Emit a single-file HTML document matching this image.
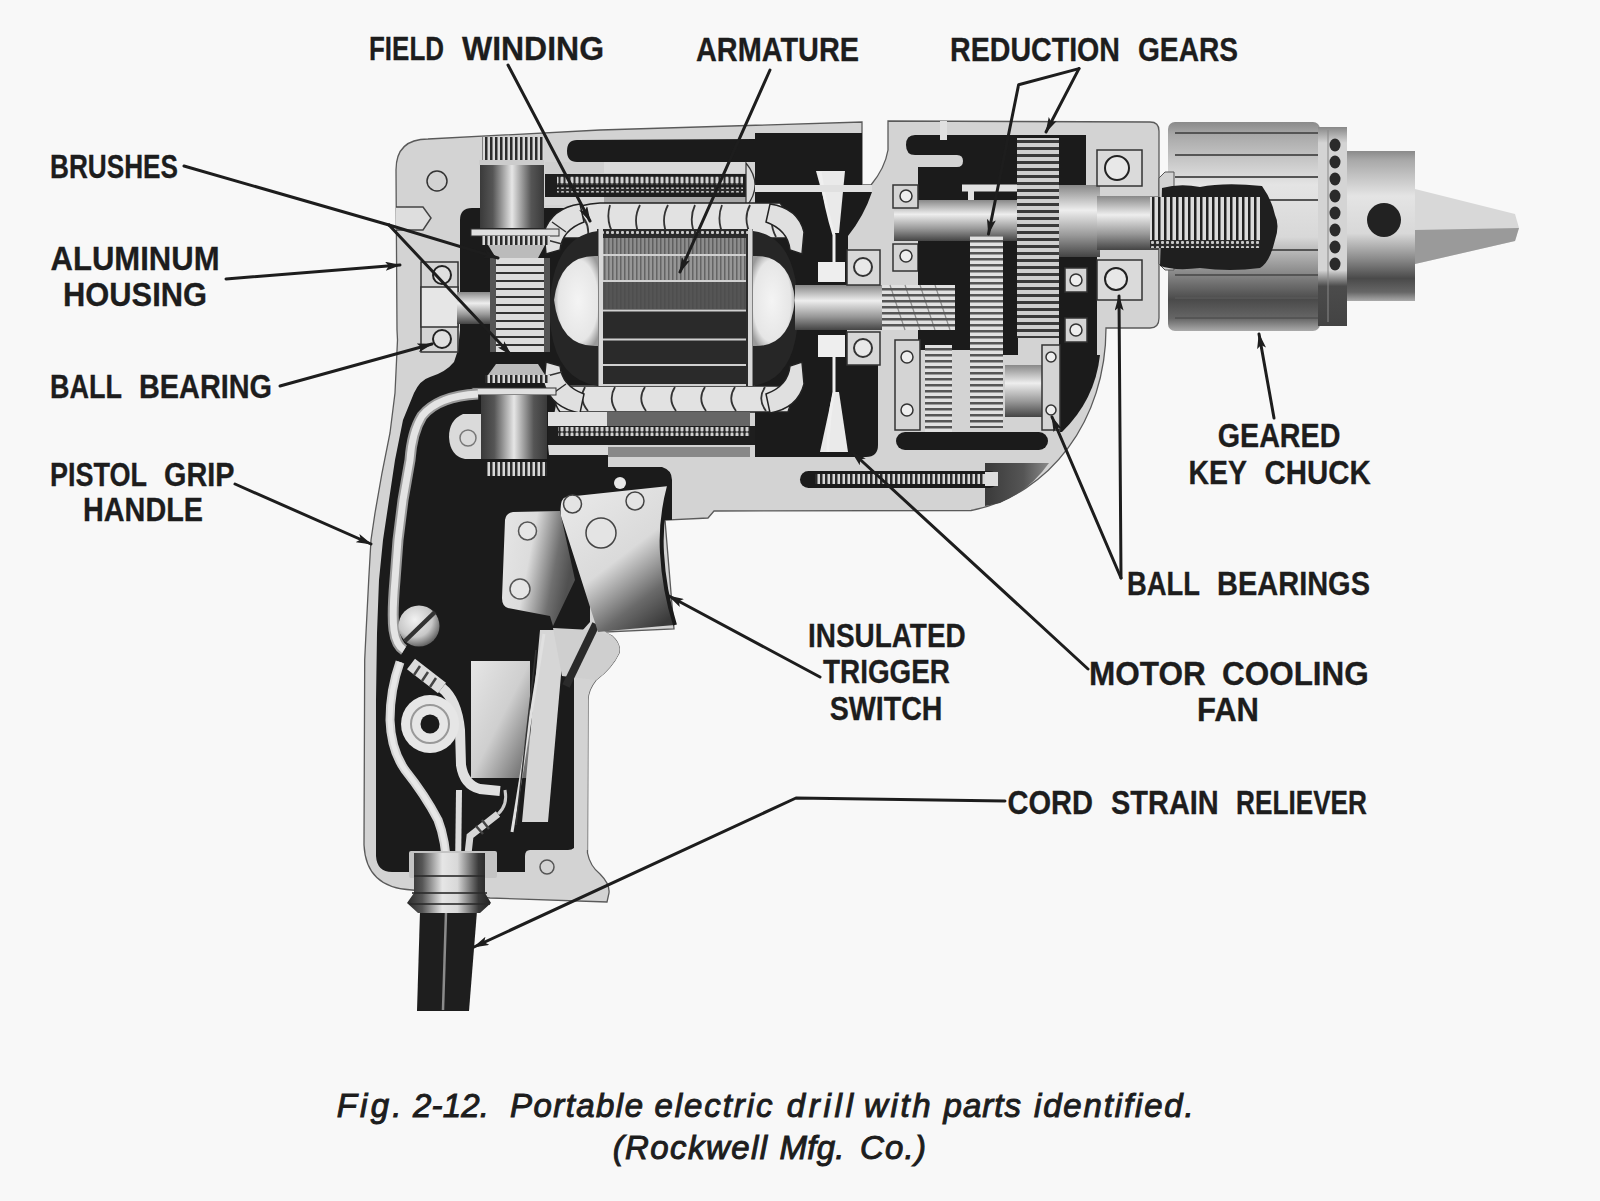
<!DOCTYPE html>
<html><head><meta charset="utf-8">
<style>
html,body{margin:0;padding:0;background:#f8f8f8;}
body{width:1600px;height:1201px;overflow:hidden;}
svg{display:block;}
.lb{font-family:"Liberation Sans",sans-serif;font-weight:bold;font-size:32.5px;fill:#1d1d1d;stroke:#1d1d1d;stroke-width:0.3px;}
.cp{font-family:"Liberation Sans",sans-serif;font-weight:normal;font-style:italic;font-size:33px;fill:#1d1d1d;stroke:#1d1d1d;stroke-width:1px;}
</style></head><body>
<svg width="1600" height="1201" viewBox="0 0 1600 1201">
<defs>
<linearGradient id="cylV" x1="0" y1="0" x2="1" y2="0">
<stop offset="0" stop-color="#3a3a3a"/><stop offset="0.2" stop-color="#555"/><stop offset="0.5" stop-color="#e6e6e6"/><stop offset="0.8" stop-color="#555"/><stop offset="1" stop-color="#3a3a3a"/>
</linearGradient>
<linearGradient id="cylH" x1="0" y1="0" x2="0" y2="1">
<stop offset="0" stop-color="#888"/><stop offset="0.35" stop-color="#eee"/><stop offset="0.7" stop-color="#999"/><stop offset="1" stop-color="#444"/>
</linearGradient>
<linearGradient id="chuckG" x1="0" y1="0" x2="0" y2="1">
<stop offset="0" stop-color="#8a8a8a"/><stop offset="0.06" stop-color="#a8a8a8"/><stop offset="0.3" stop-color="#e4e4e4"/><stop offset="0.55" stop-color="#d8d8d8"/><stop offset="0.72" stop-color="#8a8a8a"/><stop offset="0.85" stop-color="#4a4a4a"/><stop offset="0.94" stop-color="#666"/><stop offset="1" stop-color="#aaa"/>
</linearGradient>
<linearGradient id="ringG" x1="0" y1="0" x2="0" y2="1">
<stop offset="0" stop-color="#555" stop-opacity="0.6"/><stop offset="0.08" stop-color="#555" stop-opacity="0"/><stop offset="0.72" stop-color="#333" stop-opacity="0"/><stop offset="0.8" stop-color="#333" stop-opacity="0.85"/><stop offset="1" stop-color="#333" stop-opacity="0.9"/>
</linearGradient>
<radialGradient id="bell" cx="0.45" cy="0.4" r="0.6">
<stop offset="0" stop-color="#f2f2f2"/><stop offset="0.6" stop-color="#cfcfcf"/><stop offset="1" stop-color="#333"/>
</radialGradient>
<linearGradient id="trig" x1="0" y1="0" x2="0.6" y2="1">
<stop offset="0" stop-color="#e4e4e4"/><stop offset="0.5" stop-color="#d6d6d6"/><stop offset="1" stop-color="#555"/>
</linearGradient>

<pattern id="knV" width="5" height="10" patternUnits="userSpaceOnUse"><rect width="5" height="10" fill="#d8d8d8"/><rect width="2.5" height="10" fill="#2a2a2a"/></pattern>
<pattern id="knVf" width="3" height="10" patternUnits="userSpaceOnUse"><rect width="3" height="10" fill="#999"/><rect width="1.2" height="10" fill="#444"/></pattern>
<pattern id="gearH" width="10" height="7" patternUnits="userSpaceOnUse"><rect width="10" height="7" fill="#cfcfcf"/><rect width="10" height="3" fill="#3a3a3a"/></pattern>
<pattern id="gearH2" width="10" height="6" patternUnits="userSpaceOnUse"><rect width="10" height="6" fill="#e0e0e0"/><rect width="10" height="2.5" fill="#555"/></pattern>
<pattern id="commH" width="10" height="8" patternUnits="userSpaceOnUse"><rect width="10" height="8" fill="#dcdcdc"/><rect width="10" height="2" fill="#333"/></pattern>
<pattern id="thrV" width="6" height="10" patternUnits="userSpaceOnUse"><rect width="6" height="10" fill="#ddd"/><rect width="2.5" height="10" fill="#222"/></pattern>

<linearGradient id="plateG" x1="0" y1="0" x2="1" y2="0.3">
<stop offset="0" stop-color="#e6e6e6"/><stop offset="0.45" stop-color="#dcdcdc"/><stop offset="0.8" stop-color="#707070"/><stop offset="1" stop-color="#505050"/>
</linearGradient>
<linearGradient id="trigG" x1="0.2" y1="0" x2="0.8" y2="1">
<stop offset="0" stop-color="#e8e8e8"/><stop offset="0.5" stop-color="#dadada"/><stop offset="0.8" stop-color="#6a6a6a"/><stop offset="1" stop-color="#3a3a3a"/>
</linearGradient>
<linearGradient id="swG" x1="0" y1="0" x2="1" y2="1">
<stop offset="0" stop-color="#e6e6e6"/><stop offset="0.5" stop-color="#cfcfcf"/><stop offset="1" stop-color="#606060"/>
</linearGradient>
<linearGradient id="collarG" x1="0" y1="0" x2="1" y2="0">
<stop offset="0" stop-color="#2a2a2a"/><stop offset="0.18" stop-color="#555"/><stop offset="0.42" stop-color="#e6e6e6"/><stop offset="0.6" stop-color="#d8d8d8"/><stop offset="0.85" stop-color="#3a3a3a"/><stop offset="1" stop-color="#222"/>
</linearGradient>
<radialGradient id="sph" cx="0.4" cy="0.35" r="0.7">
<stop offset="0" stop-color="#f2f2f2"/><stop offset="0.6" stop-color="#c8c8c8"/><stop offset="1" stop-color="#555"/>
</radialGradient>

<marker id="ah" viewBox="0 0 14 8" refX="13" refY="4" markerWidth="16" markerHeight="9" markerUnits="userSpaceOnUse" orient="auto"><path d="M0,0 L14,4 L0,8 L3,4 Z" fill="#1d1d1d"/></marker>

<pattern id="dotsA" width="5" height="8" patternUnits="userSpaceOnUse"><rect width="5" height="8" fill="#2a2a2a"/><rect x="0.5" y="0.5" width="3" height="7" rx="1.2" fill="#d0d0d0"/></pattern>
<pattern id="dotsB" width="5" height="5" patternUnits="userSpaceOnUse"><rect width="5" height="5" fill="#2a2a2a"/><rect x="1" y="1" width="3" height="3" rx="1" fill="#c8c8c8"/></pattern>
<pattern id="armV" width="4" height="10" patternUnits="userSpaceOnUse"><rect width="1.5" height="10" fill="#3a3a3a" opacity="0.55"/></pattern>
<radialGradient id="bellL" cx="0.55" cy="0.5" r="0.6"><stop offset="0" stop-color="#f4f4f4"/><stop offset="0.75" stop-color="#e6e6e6"/><stop offset="1" stop-color="#9a9a9a"/></radialGradient>
<radialGradient id="bellR" cx="0.45" cy="0.5" r="0.6"><stop offset="0" stop-color="#f4f4f4"/><stop offset="0.75" stop-color="#e6e6e6"/><stop offset="1" stop-color="#9a9a9a"/></radialGradient>
<linearGradient id="lrG" x1="0" y1="0" x2="1" y2="0"><stop offset="0" stop-color="#3a3a3a"/><stop offset="0.6" stop-color="#555"/><stop offset="1" stop-color="#8a8a8a"/></linearGradient>
</defs>
<rect x="0" y="0" width="1600" height="1201" fill="#f8f8f8"/>

<!-- ============ HOUSING SILHOUETTE ============ -->
<path id="housing" fill="#d3d3d3" stroke="#5a5a5a" stroke-width="1.3" d="M396,170 Q396,139 428,139 L600,130 L862,122 L862,185 L871,185 Q885,168 888,150 L888,121 L1150,122 Q1159,122 1159,131 L1159,318 Q1159,328 1150,328 L1106,328 C1106,420 1050,495 971,510.5 L714,511 L708,518 L665,520 L674,629 L604,632 L612,636 Q621,644 619,653 Q612,668 596,680 Q588,690 588,700 L587.5,853 Q590,866 600,874 Q610,884 609,893 L607,902 L490,898 L412,890 Q366,888 364,845 L364.7,660 L366,633 L368.7,580 L371,540 L375,513 L382,473 L390,433 L395,393 L397.5,340 L397,330 Z"/>


<!-- ============ HANDLE + LOWER MOTOR BLACK ============ -->
<path fill="#1b1b1b" d="M460,220 Q460,208 472,208 L600,208 L600,385 L560,385 L548,445 L549,455 L608,455 L608,467 L662,467 Q672,470 672,480 L672,520 L590,520 L590,640 L576,640 L576,842 Q576,850 568,850 L530,850 Q525,850 525,856 L525,872 L392,872 Q377,872 376,856 L376,700 L377,633 L379,580 L383,540 L389,500 L395,460 L403,420 L414,393 Q420,380 430,377 Q446,372 454,362 L458,350 L460,330 Z"/>

<!-- ============ MOTOR TOP DARK ============ -->
<path fill="#1b1b1b" d="M577,140 L755,139 L755,133 L862,133 L862,192 L755,192 L755,162 L577,162 Q567,162 567,151 Q567,140 577,140 Z"/>
<path fill="#1b1b1b" d="M755,192 L872,192 Q864,216 848,236 L848,250 L847,285 L795,285 L795,330 L847,330 L847,360 L878,360 L878,445 Q878,457 866,457 L755,457 Z"/>


<!-- ============ MOTOR INTERNALS ============ -->
<!-- housing features left -->
<circle cx="437" cy="181" r="10" fill="none" stroke="#333" stroke-width="1.5"/>
<path d="M396,207 L423,207 L431,218 L423,230 L396,230" fill="#dedede" stroke="#444" stroke-width="1.5"/>
<!-- left bearing -->
<rect x="421" y="262" width="37" height="90" fill="#d4d4d4" stroke="#333" stroke-width="1.5"/>
<rect x="421" y="287" width="37" height="40" fill="#e6e6e6" stroke="#333" stroke-width="1.5"/>
<circle cx="442" cy="275" r="9" fill="#e0e0e0" stroke="#222" stroke-width="2"/>
<circle cx="442" cy="339" r="9" fill="#e0e0e0" stroke="#222" stroke-width="2"/>
<rect x="457" y="292" width="35" height="32" fill="url(#cylH)"/>
<!-- field pole top -->
<rect x="545" y="162" width="205" height="12" fill="#cfcfcf"/>
<rect x="604" y="162" width="144" height="11" fill="#dadada"/>
<rect x="545" y="174" width="204" height="24" fill="#1e1e1e"/>
<rect x="557" y="176.5" width="186" height="8" fill="url(#dotsA)"/>
<rect x="557" y="187.5" width="186" height="5" fill="url(#dotsB)"/>
<rect x="545" y="197" width="60" height="8" fill="#d8d8d8"/>
<rect x="604" y="197" width="145" height="10" fill="#a8a8a8"/>
<path d="M746,163 Q764,185 746,207 Z" fill="#dcdcdc" stroke="#333" stroke-width="1.2"/>
<!-- top field coil -->
<path d="M548,236 Q560,205 600,203 L780,203 Q792,215 790,238 L548,238 Z" fill="#e2e2e2" stroke="#222" stroke-width="1.5"/>
<path d="M575,210 Q590,220 588,236 M610,205 Q605,222 615,237 M640,205 Q632,220 640,237 M668,205 Q660,220 668,237 M695,205 Q688,220 696,237 M722,205 Q716,220 724,237 M750,205 Q742,220 752,237 M775,207 Q768,222 776,237" stroke="#333" stroke-width="1.8" fill="none"/>
<!-- bottom field coil -->
<path d="M560,386 L782,386 Q794,398 788,412 L560,412 Q550,399 560,386 Z" fill="#e2e2e2" stroke="#222" stroke-width="1.5"/>
<path d="M585,387 Q578,399 588,411 M615,387 Q608,399 616,411 M645,387 Q637,399 646,411 M675,387 Q667,399 676,411 M705,387 Q697,399 706,411 M735,387 Q727,399 736,411 M765,387 Q757,399 766,411" stroke="#333" stroke-width="1.8" fill="none"/>
<!-- coil end turns -->
<path d="M580,204 Q552,208 544,232 L546,254 L560,250 Q562,230 584,222 Z" fill="#e0e0e0" stroke="#222" stroke-width="1.5"/>
<path d="M552,222 L566,232 M547,240 L562,244" stroke="#333" stroke-width="1.5"/>
<path d="M580,413 Q552,408 544,384 L546,362 L560,366 Q562,386 584,394 Z" fill="#e0e0e0" stroke="#222" stroke-width="1.5"/>
<path d="M552,394 L566,384 M547,376 L562,372" stroke="#333" stroke-width="1.5"/>
<path d="M770,204 Q798,208 804,232 L802,254 L790,250 Q788,230 766,222 Z" fill="#e0e0e0" stroke="#222" stroke-width="1.5"/>
<path d="M770,413 Q798,408 804,384 L802,362 L790,366 Q788,386 766,394 Z" fill="#e0e0e0" stroke="#222" stroke-width="1.5"/>
<!-- bottom field pole -->
<rect x="548" y="412" width="60" height="14" fill="#e0e0e0"/>
<rect x="607" y="412" width="143" height="14" fill="#666"/>
<rect x="548" y="426" width="207" height="19" fill="#1e1e1e"/>
<rect x="558" y="427" width="192" height="9" fill="url(#dotsA)"/>
<rect x="549" y="445" width="59" height="10" fill="#dadada"/>
<rect x="608" y="447" width="142" height="10" fill="#888"/>
<!-- armature -->
<rect x="597" y="229" width="156" height="157" fill="#2c2c2c"/>
<rect x="600" y="230" width="151" height="6" fill="url(#dotsB)"/>
<rect x="603" y="238" width="143" height="16" fill="#8c8c8c"/>
<rect x="603" y="238" width="143" height="16" fill="url(#armV)"/>
<rect x="603" y="256" width="143" height="24" fill="#969696"/>
<rect x="603" y="256" width="143" height="24" fill="url(#armV)"/>
<rect x="603" y="282" width="143" height="27" fill="#555"/>
<rect x="603" y="282" width="143" height="27" fill="url(#armV)" opacity="0.5"/>
<rect x="603" y="312" width="143" height="26" fill="#2a2a2a"/>
<rect x="603" y="341" width="143" height="23" fill="#2a2a2a"/>
<rect x="603" y="366" width="143" height="18" fill="#2a2a2a"/>
<g stroke="#d0d0d0" stroke-width="2"><line x1="603" y1="255" x2="746" y2="255"/><line x1="603" y1="281" x2="746" y2="281"/><line x1="603" y1="310.5" x2="746" y2="310.5"/><line x1="603" y1="339.5" x2="746" y2="339.5"/><line x1="603" y1="365" x2="746" y2="365"/><line x1="603" y1="385" x2="746" y2="385"/></g>
<rect x="598.5" y="229" width="4.5" height="157" fill="#d8d8d8"/>
<rect x="748" y="229" width="4.5" height="157" fill="#d8d8d8"/>
<!-- left bell -->
<path d="M598,231 Q558,236 551,290 Q548,310 551,330 Q558,380 598,386 Z" fill="#262626"/>
<path d="M598,256 Q560,254 554,300 Q560,348 598,346 Z" fill="url(#bellL)"/>
<!-- right bell -->
<path d="M753,231 Q791,236 797,290 Q800,310 797,330 Q791,380 753,386 Z" fill="#262626"/>
<path d="M753,256 Q790,254 795,300 Q790,348 753,346 Z" fill="url(#bellR)"/>
<!-- commutator -->
<rect x="490" y="258" width="60" height="94" fill="url(#commH)"/>
<rect x="490" y="258" width="6" height="94" fill="#555"/>
<rect x="544" y="258" width="6" height="94" fill="#555"/>
<!-- top brush -->
<rect x="482" y="137" width="62" height="25" fill="url(#knV)"/>
<rect x="479" y="160" width="65" height="5" fill="#ccc"/>
<rect x="480" y="165" width="64" height="63" fill="url(#cylV)"/>
<rect x="471" y="229" width="88" height="7" fill="#e0e0e0" stroke="#333" stroke-width="1"/>
<rect x="482" y="236" width="68" height="9" fill="url(#knV)"/>
<path d="M488,245 L545,245 L538,258 L496,258 Z" fill="#bbb"/>
<!-- bottom brush -->
<path d="M496,364 L538,364 L545,375 L488,375 Z" fill="#bbb"/>
<rect x="485" y="375" width="65" height="8" fill="url(#knV)"/>
<rect x="472" y="388" width="84" height="7" fill="#e0e0e0" stroke="#333" stroke-width="1"/>
<rect x="481" y="395" width="66" height="64" fill="url(#cylV)"/>
<rect x="487" y="462" width="60" height="14" fill="url(#knV)"/>
<!-- boss with hole -->
<path d="M481,414 L463,414 Q449,420 449,437 Q450,456 465,459 L481,459 Z" fill="#dadada"/>
<circle cx="468" cy="438" r="8" fill="none" stroke="#777" stroke-width="1.5"/>
<!-- armature shaft right -->
<rect x="795" y="285" width="90" height="45" fill="url(#cylH)"/>
<!-- fan cones -->
<path d="M816,171 L845,171 L839,233 L833,233 Z" fill="#eaeaea"/>
<path d="M833,392 L839,392 L848,452 L820,452 Z" fill="#eaeaea"/>
<rect x="818" y="262" width="27" height="20" fill="#eee"/>
<rect x="818" y="335" width="27" height="22" fill="#eee"/>
<path d="M820,172 Q826,210 834,235 L834,262" stroke="#f0f0f0" stroke-width="3" fill="none"/>
<path d="M834,357 L834,392 Q828,420 828,452" stroke="#f0f0f0" stroke-width="3" fill="none"/>
<!-- light bar -->
<rect x="755" y="185" width="117" height="7" fill="#e0e0e0"/>
<!-- motor bearings (squares) -->
<rect x="847" y="250" width="33" height="35" fill="#d8d8d8" stroke="#333" stroke-width="1.5"/>
<circle cx="863" cy="267" r="9" fill="#e8e8e8" stroke="#333" stroke-width="2"/>
<rect x="847" y="332" width="33" height="33" fill="#d8d8d8" stroke="#333" stroke-width="1.5"/>
<circle cx="863" cy="348" r="9" fill="#e8e8e8" stroke="#333" stroke-width="2"/>
<!-- dark region right of lower slot -->
<path d="M985,463 L1049,463 Q1030,490 1000,503 L985,506 Z" fill="url(#lrG)"/>
<!-- lower slot with screw -->
<rect x="800" y="471" width="198" height="17" rx="8.5" fill="#1b1b1b"/>
<rect x="815" y="474" width="170" height="10" fill="url(#knV)"/>
<rect x="985" y="472" width="13" height="14" fill="#ddd"/>


<!-- ============ GEAR CASE ============ -->
<!-- dark region A top -->
<path fill="#1b1b1b" d="M915,135 L1086,135 L1086,186 L1017,186 L1017,200 L918,200 L918,167 L957,167 Q963,167 963,161 Q963,155 957,155 L915,155 Q906,155 906,145 Q906,135 915,135 Z"/>
<rect x="940" y="121" width="7" height="19" fill="#e0e0e0"/>
<rect x="962" y="184.5" width="56" height="7" fill="#e2e2e2"/>
<rect x="968" y="191" width="6" height="9" fill="#e2e2e2"/>
<!-- spindle -->
<rect x="894" y="200" width="124" height="41" fill="url(#cylH)"/>
<rect x="1059" y="185" width="41" height="72" fill="url(#cylH)"/>
<rect x="1097" y="196" width="80" height="54" fill="url(#cylH)"/>
<!-- spindle bearings left -->
<rect x="893" y="185" width="25" height="23" fill="#d4d4d4" stroke="#333" stroke-width="1.5"/>
<circle cx="906" cy="196" r="6" fill="#eee" stroke="#333" stroke-width="1.5"/>
<rect x="893" y="244" width="25" height="27" fill="#d4d4d4" stroke="#333" stroke-width="1.5"/>
<circle cx="906" cy="256" r="6" fill="#eee" stroke="#333" stroke-width="1.5"/>
<!-- dark region below spindle -->
<rect x="918" y="241" width="100" height="7" fill="#1b1b1b"/>
<rect x="918" y="244" width="52" height="106" fill="#1b1b1b"/>
<rect x="1001" y="241" width="17" height="114" fill="#1b1b1b"/>
<rect x="1059" y="257" width="38" height="98" fill="#1b1b1b"/>
<!-- helical pinion -->
<rect x="882" y="285" width="73" height="45" fill="url(#gearH2)"/>
<path d="M890,285 L905,330 M905,285 L920,330 M920,285 L935,330 M935,285 L950,330" stroke="#555" stroke-width="1.2" opacity="0.6"/>
<!-- right side lower dark -->
<path fill="#1b1b1b" d="M1060,355 L1100,355 Q1095,400 1062,432 L1060,432 Z"/>
<!-- big gear -->
<rect x="1017" y="138" width="42" height="200" fill="url(#gearH)"/>
<!-- small gear -->
<rect x="970" y="236" width="33" height="192" fill="url(#gearH2)"/>
<!-- right bearings -->
<rect x="1097" y="150" width="45" height="36" fill="#dadada" stroke="#333" stroke-width="1.5"/>
<circle cx="1117" cy="168" r="12" fill="#e8e8e8" stroke="#222" stroke-width="2"/>
<rect x="1097" y="260" width="45" height="40" fill="#dadada" stroke="#333" stroke-width="1.5"/>
<circle cx="1116" cy="279" r="11" fill="#e8e8e8" stroke="#222" stroke-width="2"/>
<!-- right small bearings near big gear -->
<rect x="1065" y="268" width="22" height="24" fill="#d4d4d4" stroke="#333" stroke-width="1.5"/>
<circle cx="1076" cy="280" r="6" fill="#eee" stroke="#333" stroke-width="1.5"/>
<rect x="1065" y="318" width="22" height="24" fill="#d4d4d4" stroke="#333" stroke-width="1.5"/>
<circle cx="1076" cy="330" r="6" fill="#eee" stroke="#333" stroke-width="1.5"/>
<!-- lower gear column left -->
<rect x="895" y="340" width="25" height="90" fill="#d4d4d4" stroke="#333" stroke-width="1.5"/>
<circle cx="907" cy="357" r="6" fill="#eee" stroke="#333" stroke-width="1.5"/>
<circle cx="907" cy="410" r="6" fill="#eee" stroke="#333" stroke-width="1.5"/>
<rect x="925" y="345" width="27" height="90" fill="url(#gearH2)"/>
<rect x="1005" y="365" width="38" height="52" fill="url(#cylH)"/>
<rect x="1042" y="345" width="18" height="85" fill="#d4d4d4" stroke="#333" stroke-width="1.5"/>
<circle cx="1051" cy="357" r="5" fill="#eee" stroke="#333" stroke-width="1.5"/>
<circle cx="1051" cy="410" r="5" fill="#eee" stroke="#333" stroke-width="1.5"/>
<!-- bottom dark band -->
<rect x="896" y="432" width="152" height="18" rx="9" fill="#1b1b1b"/>

<!-- ============ CHUCK ============ -->
<rect x="1168" y="122" width="152" height="209" rx="7" fill="url(#chuckG)"/>
<path d="M1159,178 L1165,172 L1174,172 L1174,270 L1165,270 L1159,264 Z" fill="#d2d2d2" stroke="#555" stroke-width="1"/>
<g stroke="#555" stroke-width="2"><line x1="1175" y1="133" x2="1318" y2="133"/><line x1="1175" y1="155" x2="1318" y2="155"/><line x1="1175" y1="177" x2="1318" y2="177"/><line x1="1175" y1="200" x2="1318" y2="200"/><line x1="1175" y1="250" x2="1318" y2="250"/><line x1="1175" y1="275" x2="1318" y2="275"/><line x1="1175" y1="298" x2="1318" y2="298"/><line x1="1175" y1="318" x2="1318" y2="318"/></g>
<path fill="#1f1f1f" d="M1162,188 Q1180,183 1200,187 Q1225,182 1262,186 Q1272,200 1275,215 Q1280,225 1275,240 Q1270,262 1260,268 Q1230,272 1200,268 Q1175,271 1160,266 Z"/>
<rect x="1150" y="197" width="110" height="43" fill="url(#thrV)"/>
<rect x="1150" y="240" width="110" height="8" fill="url(#dotsB)"/>
<rect x="1318" y="127" width="29" height="199" fill="#d4d4d4"/>
<rect x="1318" y="127" width="29" height="199" fill="url(#ringG)"/>
<g fill="#2a2a2a"><ellipse cx="1335" cy="145" rx="5.5" ry="6.5"/><ellipse cx="1335" cy="162" rx="5.5" ry="6.5"/><ellipse cx="1335" cy="179" rx="5.5" ry="6.5"/><ellipse cx="1335" cy="196" rx="5.5" ry="6.5"/><ellipse cx="1335" cy="213" rx="5.5" ry="6.5"/><ellipse cx="1335" cy="230" rx="5.5" ry="6.5"/><ellipse cx="1335" cy="247" rx="5.5" ry="6.5"/><ellipse cx="1335" cy="264" rx="5.5" ry="6.5"/></g>
<line x1="1328" y1="130" x2="1328" y2="322" stroke="#888" stroke-width="1"/>
<rect x="1347" y="151" width="68" height="150" fill="url(#chuckG)"/>
<circle cx="1384" cy="220" r="17" fill="#222"/>
<path d="M1415,189 L1515,214 L1519,228 L1515,241 L1415,264 Z" fill="#d8d8d8"/>
<path d="M1415,230 L1519,228 L1515,241 L1415,264 Z" fill="#9a9a9a"/>


<!-- ============ HANDLE INTERNALS ============ -->
<!-- wire A along left to screw -->
<path d="M478,394 Q438,396 422,416 Q412,432 410,460 L403,500 L398,540 L395,580 Q392,615 394,630 Q396,645 404,650" stroke="#9a9a9a" stroke-width="11" fill="none"/>
<path d="M478,394 Q438,396 422,416 Q412,432 410,460 L403,500 L398,540 L395,580 Q392,615 394,630 Q396,645 404,650" stroke="#e4e4e4" stroke-width="7" fill="none"/>
<!-- wire B from screw down -->
<path d="M400,662 Q390,690 390,720 Q391,750 405,770 Q425,795 438,820 Q446,840 447,872" stroke="#d4d4d4" stroke-width="9" fill="none"/>
<path d="M400,662 Q390,690 390,720 Q391,750 405,770 Q425,795 438,820 Q446,840 447,872" stroke="#e8e8e8" stroke-width="5" fill="none"/>
<!-- screw head -->
<circle cx="419" cy="626" r="20.5" fill="url(#sph)"/>
<line x1="405" y1="641" x2="435" y2="612" stroke="#333" stroke-width="4.5"/>
<!-- connector -->
<path d="M411,664 L442,688" stroke="#dcdcdc" stroke-width="13" fill="none"/>
<path d="M420,666 L414,675 M428,672 L422,681 M436,678 L430,687" stroke="#444" stroke-width="2.5"/>
<!-- wire C loop -->
<path d="M442,688 Q457,700 460,730 L461,765 Q464,785 480,789 L500,791" stroke="#e0e0e0" stroke-width="10" fill="none"/>
<!-- ring terminal -->
<circle cx="430" cy="724" r="29" fill="#e6e6e6"/>
<circle cx="430" cy="724" r="19" fill="none" stroke="#999" stroke-width="2"/>
<circle cx="430" cy="724" r="9.5" fill="#1b1b1b"/>
<!-- wire D down -->
<path d="M459,790 L458,872" stroke="#dcdcdc" stroke-width="6" fill="none"/>
<path d="M498,814 L470,836 L466,872" stroke="#d6d6d6" stroke-width="7" fill="none"/>
<path d="M482,820 L489,829 M476,826 L483,834" stroke="#444" stroke-width="2.5"/>
<path d="M505,790 Q508,805 498,814" stroke="#ccc" stroke-width="3" fill="none"/>
<!-- switch body -->
<rect x="471" y="661" width="59" height="117" fill="url(#swG)"/>
<!-- slanted switch bar -->
<path d="M540,630 L565,630 L548,822 L522,822 Z" fill="#d6d6d6"/>
<line x1="544" y1="634" x2="512" y2="832" stroke="#e0e0e0" stroke-width="3"/>
<line x1="536" y1="650" x2="516" y2="825" stroke="#333" stroke-width="1.5"/>
<!-- front wall region -->
<path d="M574,640 L590,622 L612,636 Q621,644 619,653 Q612,668 596,680 Q588,690 588,700 L587.5,850 L574,850 Z" fill="#d3d3d3"/>
<!-- switch plate -->
<path d="M513,512 L560,511 L575,580 L553,626 L550,616 L508,608 Q502,606 502,598 L505,520 Q506,513 513,512 Z" fill="url(#plateG)"/>
<circle cx="527.5" cy="531" r="9" fill="#e6e6e6" stroke="#555" stroke-width="1.5"/>
<circle cx="520" cy="589" r="10" fill="#e6e6e6" stroke="#555" stroke-width="1.5"/>
<!-- lever below plate -->
<path d="M553,628 L592,630 L612,636 Q621,644 619,653 Q612,668 596,680 L562,676 Z" fill="#cfcfcf"/>
<path d="M596,624 L566,686" stroke="#2a2a2a" stroke-width="8"/>
<!-- trigger -->
<path d="M566,497 L669,486 Q660,520 662,553 Q664,590 675,625 Q640,628 598,632 L561,516 Q559,499 566,497 Z" fill="url(#trigG)"/>
<path d="M669,486 Q660,520 662,553 Q664,590 675,625" stroke="#1b1b1b" stroke-width="4" fill="none"/>
<circle cx="572.5" cy="504" r="9" fill="#e4e4e4" stroke="#444" stroke-width="1.5"/>
<circle cx="635" cy="501" r="9" fill="#e4e4e4" stroke="#444" stroke-width="1.5"/>
<circle cx="601" cy="533" r="15" fill="#e4e4e4" stroke="#444" stroke-width="1.5"/>
<circle cx="620" cy="483" r="6" fill="#e8e8e8"/>
<!-- bottom lip hole -->
<circle cx="547" cy="867" r="7" fill="none" stroke="#555" stroke-width="1.5"/>

<!-- ============ COLLAR & CORD ============ -->
<path d="M420,911 L477,911 L469,1011 L417,1011 Z" fill="#1e1e1e"/>
<line x1="446" y1="912" x2="443" y2="1010" stroke="#8a8a8a" stroke-width="2.5"/>
<rect x="409" y="851" width="88" height="27" rx="2" fill="#c4c4c4"/>
<path d="M414,853 L485,853 L485,893 L491,903 L480,913 L418,913 L407,903 L414,893 Z" fill="url(#collarG)"/>
<g stroke="#2a2a2a" stroke-width="2" opacity="0.8"><line x1="414" y1="876" x2="485" y2="876"/><line x1="412" y1="893" x2="487" y2="893"/><line x1="409" y1="904" x2="490" y2="904"/></g>

<!-- ============ LEADER LINES ============ -->
<g stroke="#1d1d1d" stroke-width="3" fill="none" stroke-linecap="round" stroke-linejoin="round">
<line x1="508" y1="65" x2="590" y2="221" marker-end="url(#ah)"/>
<line x1="770" y1="70" x2="680" y2="272" marker-end="url(#ah)"/>
<polyline points="1079,68.6 1018.6,84.7 988.5,234" marker-end="url(#ah)"/>
<line x1="1079" y1="68.6" x2="1046" y2="132" marker-end="url(#ah)"/>
<line x1="184" y1="166" x2="389" y2="225"/>
<line x1="389" y1="225" x2="498" y2="258" marker-end="url(#ah)"/>
<line x1="389" y1="225" x2="511" y2="355" marker-end="url(#ah)"/>
<line x1="226" y1="279" x2="400" y2="265" marker-end="url(#ah)"/>
<line x1="280" y1="386" x2="432" y2="344" marker-end="url(#ah)"/>
<line x1="235" y1="484" x2="371" y2="544" marker-end="url(#ah)"/>
<line x1="1274" y1="418" x2="1259" y2="334" marker-end="url(#ah)"/>
<line x1="1121" y1="578" x2="1119" y2="296" marker-end="url(#ah)"/>
<line x1="1121" y1="578" x2="1052" y2="417" marker-end="url(#ah)"/>
<line x1="1088" y1="669" x2="852" y2="452" marker-end="url(#ah)"/>
<line x1="820" y1="677" x2="669" y2="596" marker-end="url(#ah)"/>
<polyline points="1005,801 796,798 474,947" marker-end="url(#ah)"/>
</g>

<!-- ============ TEXT ============ -->
<text class="lb" x="369.0" y="59.5" textLength="75.0" lengthAdjust="spacingAndGlyphs">FIELD</text>
<text class="lb" x="462.0" y="59.5" textLength="142.0" lengthAdjust="spacingAndGlyphs">WINDING</text>
<text class="lb" x="696.0" y="61.0" textLength="163.0" lengthAdjust="spacingAndGlyphs">ARMATURE</text>
<text class="lb" x="950.0" y="61.0" textLength="170.0" lengthAdjust="spacingAndGlyphs">REDUCTION</text>
<text class="lb" x="1138.0" y="61.0" textLength="100.0" lengthAdjust="spacingAndGlyphs">GEARS</text>
<text class="lb" x="50.0" y="177.5" textLength="128.0" lengthAdjust="spacingAndGlyphs">BRUSHES</text>
<text class="lb" x="50.5" y="270.0" textLength="169.0" lengthAdjust="spacingAndGlyphs">ALUMINUM</text>
<text class="lb" x="63.0" y="306.0" textLength="144.0" lengthAdjust="spacingAndGlyphs">HOUSING</text>
<text class="lb" x="50.0" y="398.0" textLength="72.0" lengthAdjust="spacingAndGlyphs">BALL</text>
<text class="lb" x="139.0" y="398.0" textLength="133.0" lengthAdjust="spacingAndGlyphs">BEARING</text>
<text class="lb" x="50.0" y="486.0" textLength="97.0" lengthAdjust="spacingAndGlyphs">PISTOL</text>
<text class="lb" x="164.0" y="486.0" textLength="70.5" lengthAdjust="spacingAndGlyphs">GRIP</text>
<text class="lb" x="83.0" y="521.0" textLength="120.0" lengthAdjust="spacingAndGlyphs">HANDLE</text>
<text class="lb" x="1217.7" y="447.0" textLength="122.7" lengthAdjust="spacingAndGlyphs">GEARED</text>
<text class="lb" x="1188.6" y="483.5" textLength="58.4" lengthAdjust="spacingAndGlyphs">KEY</text>
<text class="lb" x="1264.6" y="483.5" textLength="106.2" lengthAdjust="spacingAndGlyphs">CHUCK</text>
<text class="lb" x="1127.0" y="595.0" textLength="73.0" lengthAdjust="spacingAndGlyphs">BALL</text>
<text class="lb" x="1217.0" y="595.0" textLength="153.0" lengthAdjust="spacingAndGlyphs">BEARINGS</text>
<text class="lb" x="808.0" y="646.7" textLength="157.7" lengthAdjust="spacingAndGlyphs">INSULATED</text>
<text class="lb" x="823.0" y="683.0" textLength="127.0" lengthAdjust="spacingAndGlyphs">TRIGGER</text>
<text class="lb" x="829.7" y="719.5" textLength="112.8" lengthAdjust="spacingAndGlyphs">SWITCH</text>
<text class="lb" x="1089.0" y="685.0" textLength="116.7" lengthAdjust="spacingAndGlyphs">MOTOR</text>
<text class="lb" x="1222.0" y="685.0" textLength="146.8" lengthAdjust="spacingAndGlyphs">COOLING</text>
<text class="lb" x="1197.0" y="721.0" textLength="62.0" lengthAdjust="spacingAndGlyphs">FAN</text>
<text class="lb" x="1007.5" y="814.0" textLength="85.5" lengthAdjust="spacingAndGlyphs">CORD</text>
<text class="lb" x="1111.0" y="814.0" textLength="107.8" lengthAdjust="spacingAndGlyphs">STRAIN</text>
<text class="lb" x="1236.0" y="814.0" textLength="131.0" lengthAdjust="spacingAndGlyphs">RELIEVER</text>
<text class="cp" x="336.7" y="1117.4" textLength="64.8" lengthAdjust="spacing">Fig.</text>
<text class="cp" x="412.9" y="1117.4" textLength="76.1" lengthAdjust="spacing">2-12.</text>
<text class="cp" x="510.0" y="1117.4" textLength="133.0" lengthAdjust="spacing">Portable</text>
<text class="cp" x="654.4" y="1117.4" textLength="118.1" lengthAdjust="spacing">electric</text>
<text class="cp" x="786.8" y="1117.4" textLength="66.2" lengthAdjust="spacing">drill</text>
<text class="cp" x="864.0" y="1117.4" textLength="66.6" lengthAdjust="spacing">with</text>
<text class="cp" x="943.5" y="1117.4" textLength="77.5" lengthAdjust="spacing">parts</text>
<text class="cp" x="1034.0" y="1117.4" textLength="159.7" lengthAdjust="spacing">identified.</text>
<text class="cp" x="612.7" y="1159.0" textLength="154.3" lengthAdjust="spacing">(Rockwell</text>
<text class="cp" x="779.6" y="1159.0" textLength="64.8" lengthAdjust="spacing">Mfg.</text>
<text class="cp" x="860.0" y="1159.0" textLength="66.0" lengthAdjust="spacing">Co.)</text>
</svg>
</body></html>
